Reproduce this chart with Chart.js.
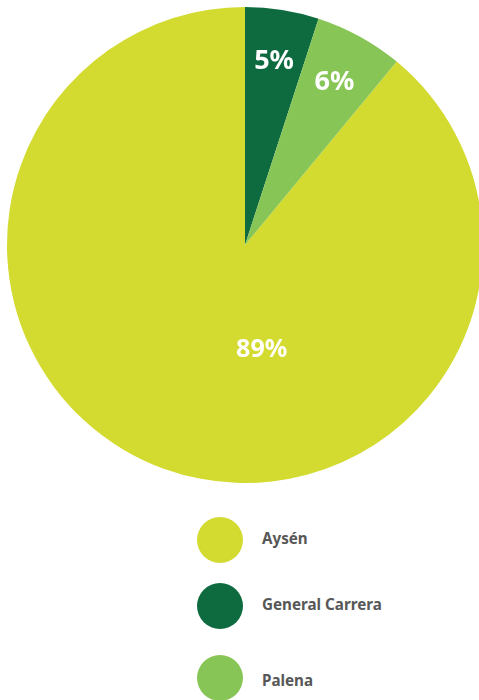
<!DOCTYPE html>
<html>
<head>
<meta charset="utf-8">
<script src="https://cdn.jsdelivr.net/npm/chart.js@4"></script>
<style>
  body { margin: 0; width: 479px; height: 700px; overflow: hidden; background: #fff; font-family: "Noto Sans", sans-serif; }
  #wrap { position: absolute; left: 0; top: 0; width: 490px; height: 490px; }
  #legend { position: absolute; left: 197px; top: 517px; }
  .item { position: relative; height: 46px; margin-bottom: 20px; }
  .item:nth-child(2) { margin-bottom: 26px; }
  .item:nth-child(3) .lbl { top: 15px; }
  .dot { position: absolute; left: 0; top: 0; width: 46px; height: 46px; border-radius: 50%; }
  .lbl { position: absolute; left: 65px; top: 11px; font-size: 15.2px; font-weight: bold; color: #575757; white-space: nowrap; }
</style>
</head>
<body>
<div id="wrap"><canvas id="pie" width="490" height="490"></canvas></div>
<div id="legend"></div>
<script>
const categories = ['Aysén', 'General Carrera', 'Palena'];
const shares = [89, 5, 6];
const colors = ['#d3da30', '#0d6b3f', '#87c557'];

const total = shares.reduce((a, b) => a + b, 0);
// first slice ends at 12 o'clock, so the others start there
const startAngle = (total - shares[0]) / total * 360;

const sliceLabels = {
  id: 'sliceLabels',
  afterDatasetsDraw(chart) {
    const ctx = chart.ctx;
    const meta = chart.getDatasetMeta(0);
    ctx.save();
    ctx.fillStyle = '#fff';
    ctx.textAlign = 'center';
    ctx.textBaseline = 'middle';
    meta.data.forEach((arc, i) => {
      const r = arc.outerRadius;
      let x, y;
      if (shares[i] / total > 0.5) {
        ctx.font = 'bold 25px "Noto Sans"';
        x = arc.x + r * 0.07;
        y = arc.y + r * 0.44;
      } else {
        ctx.font = 'bold 27px "Noto Sans"';
        const mid = (arc.startAngle + arc.endAngle) / 2;
        x = arc.x + Math.cos(mid) * r * 0.78;
        y = arc.y + Math.sin(mid) * r * 0.78;
      }
      ctx.fillText(shares[i] + '%', x, y);
    });
    ctx.restore();
  }
};

new Chart(document.getElementById('pie'), {
  type: 'pie',
  data: {
    labels: categories,
    datasets: [{ data: shares, backgroundColor: colors, borderWidth: 0 }]
  },
  options: {
    responsive: false,
    animation: false,
    rotation: startAngle,
    layout: { padding: 7 },
    plugins: { legend: { display: false }, tooltip: { enabled: false } }
  },
  plugins: [sliceLabels]
});

const legend = document.getElementById('legend');
categories.forEach((name, i) => {
  const item = document.createElement('div');
  item.className = 'item';
  item.innerHTML = '<div class="dot" style="background:' + colors[i] + '"></div><div class="lbl">' + name + '</div>';
  legend.appendChild(item);
});
</script>
</body>
</html>
